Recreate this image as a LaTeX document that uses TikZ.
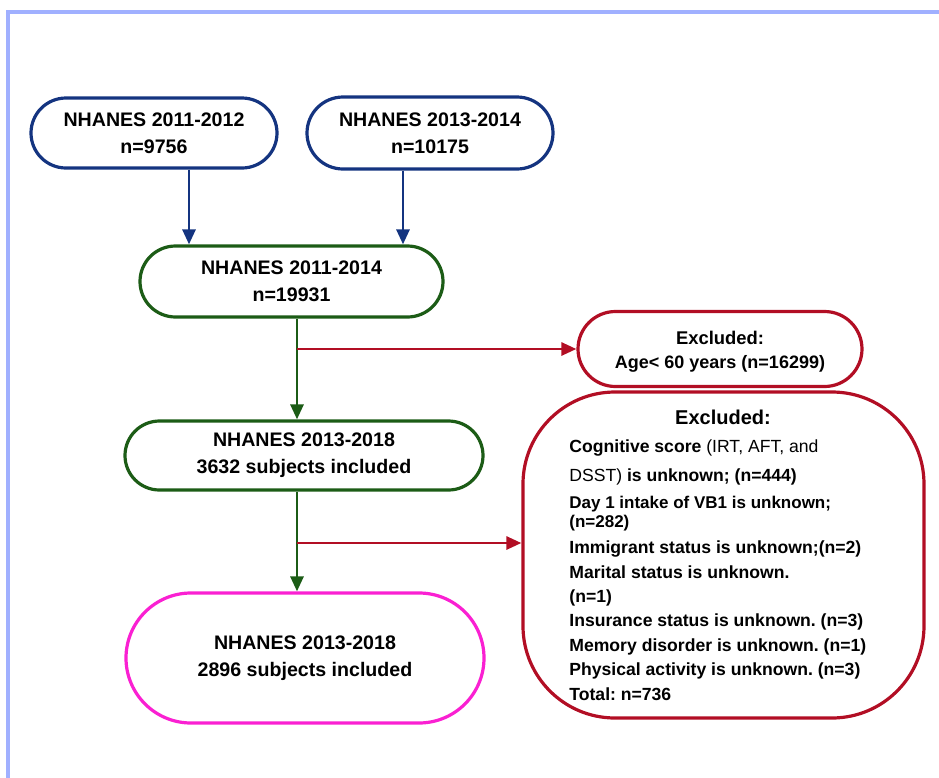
\documentclass[tikz,border=0pt]{standalone}
\usepackage{fontspec}
\setmainfont{Liberation Sans}
\usetikzlibrary{arrows.meta}
\frenchspacing
\definecolor{navy}{RGB}{20,52,128}
\definecolor{dgreen}{RGB}{28,92,22}
\definecolor{dred}{RGB}{178,14,36}
\definecolor{pinkm}{RGB}{250,32,210}
\definecolor{framec}{RGB}{160,176,255}
\tikzset{
  stad/.style={line width=1.6pt, fill=white, text=black, align=center, font=\bfseries\fontsize{9.8}{13.5}\selectfont, inner sep=0pt},
  arr/.style={line width=1.4pt, -{Triangle[length=7.5pt,width=6.5pt]}},
  exl/.style={anchor=base west, inner sep=0pt, font=\bfseries\fontsize{8.8}{10}\selectfont},
}
\begin{document}
\begin{tikzpicture}[x=0.5pt,y=-0.5pt]
\useasboundingbox (0,0) rectangle (939,778);
% frame
\draw[framec, line width=1.6pt] (8,778) -- (8,12) -- (939,12);
% boxes
\node[stad, draw=navy, minimum width=123pt, minimum height=35pt, rounded corners=17.5pt] (a) at (154,133) {NHANES 2011-2012\\n=9756};
\node[stad, draw=navy, minimum width=123pt, minimum height=36pt, rounded corners=18pt] (b) at (430,133) {NHANES 2013-2014\\n=10175};
\node[stad, draw=dgreen, minimum width=151.5pt, minimum height=35.5pt, rounded corners=17.75pt] (c) at (291.5,281.5) {NHANES 2011-2014\\n=19931};
\node[stad, draw=dgreen, minimum width=179pt, minimum height=34.5pt, rounded corners=17.25pt] (d) at (304,455.5) {NHANES 2013-2018\\3632 subjects included};
\node[stad, draw=pinkm, minimum width=179pt, minimum height=65pt, rounded corners=32.5pt] (e) at (305,658) {NHANES 2013-2018\\2896 subjects included};
\node[stad, draw=dred, minimum width=142pt, minimum height=37.5pt, rounded corners=18.75pt] (x1) at (720,349) {};
\node[anchor=base, inner sep=0pt, font=\bfseries\fontsize{9.2}{10}\selectfont] (x1t) at (720,344) {Excluded:};
\node[anchor=base, inner sep=0pt, font=\bfseries\fontsize{9}{10}\selectfont] (x1u) at (720,368) {Age< 60 years (n=16299)};
\node[draw=dred, line width=1.6pt, minimum width=200.5pt, minimum height=163pt, rounded corners=46pt, inner sep=0pt] (x2) at (723.5,555) {};
\node[anchor=base, inner sep=0pt, font=\bfseries\fontsize{10}{10}\selectfont] (x2t) at (723,424) {Excluded:};
\node[exl] (l1) at (569,452) {Cognitive score \mdseries(IRT, AFT, and};
\node[exl] (l2) at (569,481) {\mdseries DSST)\bfseries\ is unknown; (n=444)};
\node[exl, font=\bfseries\fontsize{8.5}{10}\selectfont] (l3) at (569,508) {Day 1 intake of VB1 is unknown;};
\node[exl, font=\bfseries\fontsize{8.5}{10}\selectfont] (l4) at (569,527) {(n=282)};
\node[exl] (l5) at (569,553) {Immigrant status is unknown;(n=2)};
\node[exl] (l6) at (569,578) {Marital status is unknown.};
\node[exl] (l7) at (569,602) {(n=1)};
\node[exl] (l8) at (569,626) {Insurance status is unknown. (n=3)};
\node[exl] (l9) at (569,651) {Memory disorder is unknown. (n=1)};
\node[exl] (l10) at (569,675) {Physical activity is unknown. (n=3)};
\node[exl] (l11) at (569,700) {Total: n=736};
% connectors
\draw[arr, navy] (a.south -| 189,0) -- (c.north -| 189,0);
\draw[arr, navy] (b.south -| 403,0) -- (c.north -| 403,0);
\draw[arr, dgreen] (c.south -| 297,0) -- (d.north -| 297,0);
\draw[arr, dgreen] (d.south -| 297,0) -- (e.north -| 297,0);
\coordinate (j1) at (297,349);
\coordinate (j2) at (297,543);
\draw[arr, dred] (j1) -- (x1.west |- j1);
\draw[arr, dred] (j2) -- (x2.west |- j2);
\end{tikzpicture}
\end{document}
